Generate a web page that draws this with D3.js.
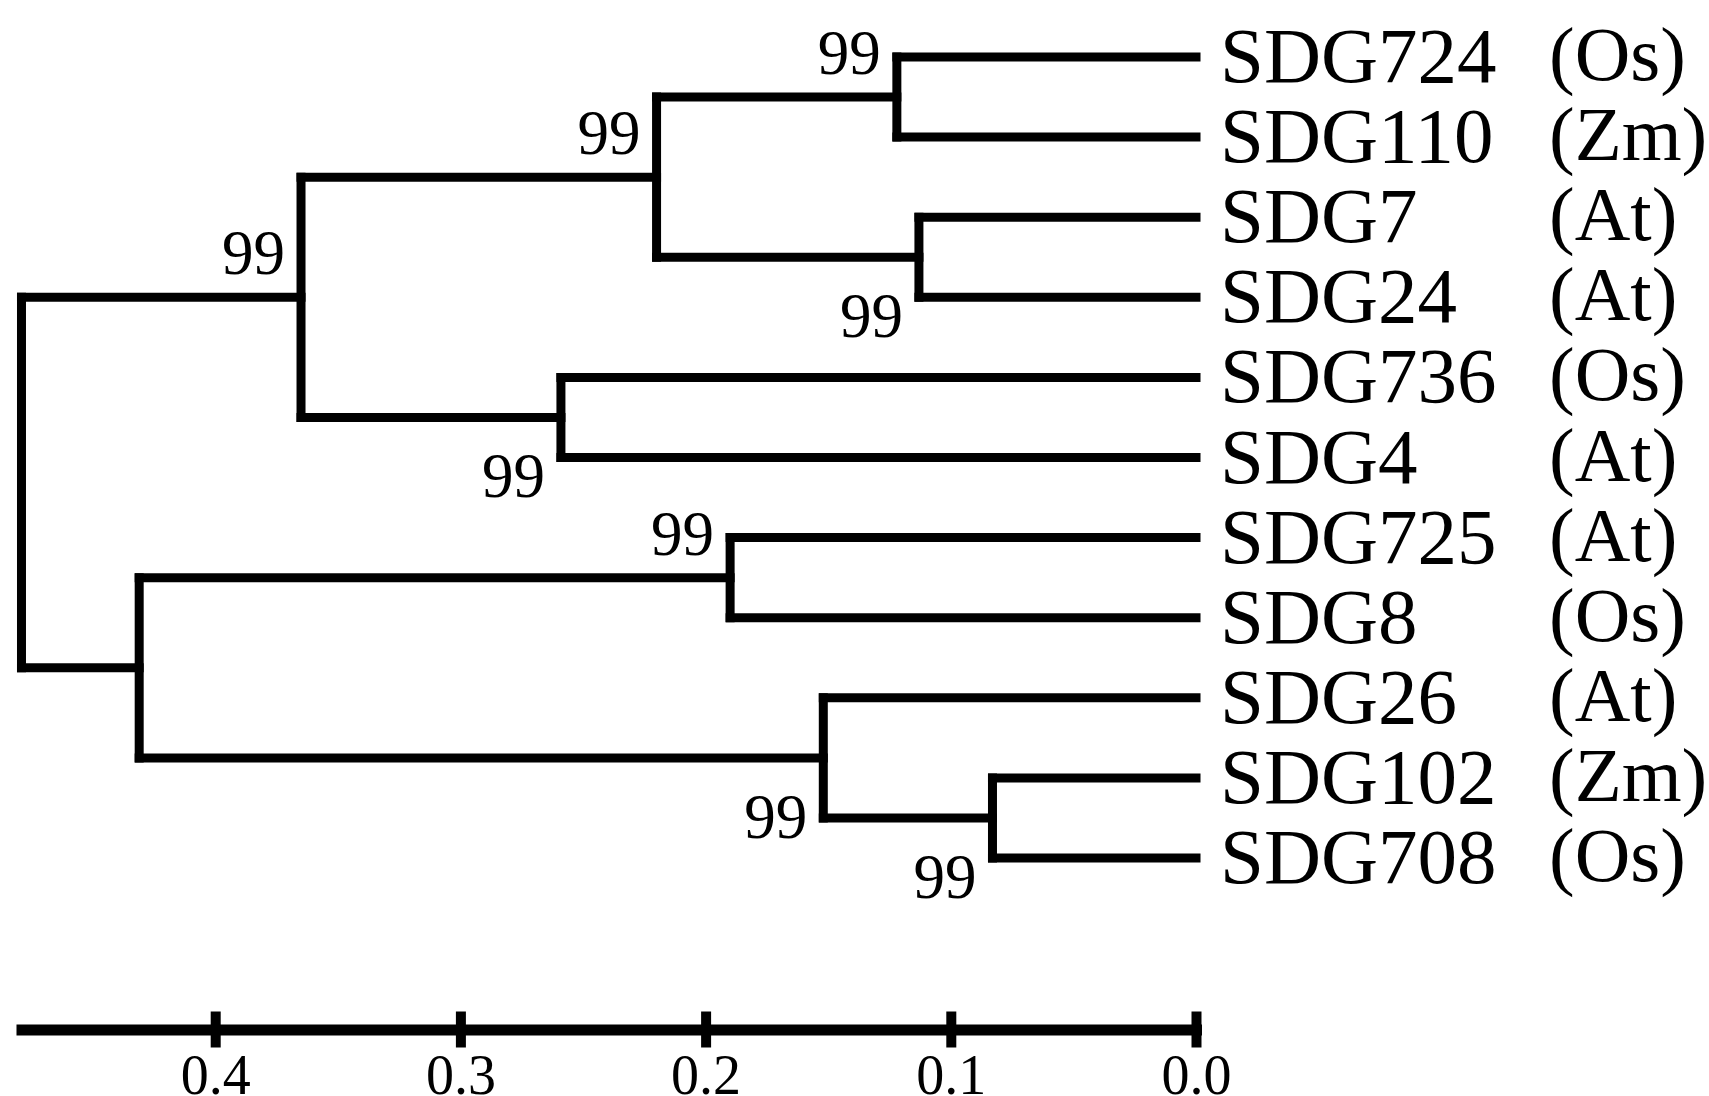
<!DOCTYPE html>
<html lang="en">
<head>
<meta charset="UTF-8">
<title>SDG tree</title>
<style>
  html, body { margin: 0; padding: 0; background: #fff; }
  svg { display: block; }
  text { font-family: "Liberation Serif", "Times New Roman", Times, serif; fill: #000; }
</style>
</head>
<body>
<svg id="tree" width="1709" height="1096"></svg>
<script src="https://d3js.org/d3.v7.min.js"></script>
<script>
// leaves, top to bottom
const leafNames   = ["SDG724", "SDG110", "SDG7", "SDG24", "SDG736", "SDG4", "SDG725", "SDG8", "SDG26", "SDG102", "SDG708"];
const leafSpecies = ["Os", "Zm", "At", "At", "Os", "At", "At", "Os", "At", "Zm", "Os"];

// internal nodes: children (upper first), node height, bootstrap
const nodeIds      = ["n724_110", "n7_24", "nA", "n736_4", "nUp", "n725_8", "n102_708", "n26", "nLow", "root"];
const nodeChildren = [
  ["SDG724", "SDG110"],
  ["SDG7", "SDG24"],
  ["n724_110", "n7_24"],
  ["SDG736", "SDG4"],
  ["nA", "n736_4"],
  ["SDG725", "SDG8"],
  ["SDG102", "SDG708"],
  ["SDG26", "n102_708"],
  ["n725_8", "n26"],
  ["nUp", "nLow"]
];
const nodeHeights  = [0.122, 0.113, 0.220, 0.259, 0.365, 0.190, 0.083, 0.152, 0.431, 0.479];
const nodeSupport  = [99, 99, 99, 99, 99, 99, 99, 99, null, null];

const axisTicks = [0.4, 0.3, 0.2, 0.1, 0.0];

// --- build hierarchy ---
const lookup = {};
leafNames.forEach((n, i) => { lookup[n] = { name: n, height: 0, species: leafSpecies[i] }; });
nodeIds.forEach((id, i) => {
  lookup[id] = { name: id, height: nodeHeights[i], support: nodeSupport[i], kids: nodeChildren[i] };
});
function build(id) {
  const d = lookup[id];
  if (d.kids) d.children = d.kids.map(build);
  return d;
}
const root = d3.hierarchy(build("root"));

// --- scales ---
const unit = 2452;           // px per 1.0 distance
const xEnd = 1196;
const rootH = root.data.height;
const x = d3.scaleLinear().domain([rootH, 0]).range([xEnd - rootH * unit, xEnd]);
const leafY = d3.scalePoint().domain(leafNames).range([57, 858]);

root.eachAfter(n => {
  n.py = n.children ? d3.mean(n.children, c => c.py) : leafY(n.data.name);
  n.px = x(n.data.height);
});

const svg = d3.select("#tree");
svg.append("rect").attr("width", 1709).attr("height", 1096).attr("fill", "#fff");

const g = svg.append("g")
  .attr("fill", "none")
  .attr("stroke", "#000")
  .attr("stroke-width", 9)
  .attr("stroke-linecap", "square");

// horizontal branches
g.selectAll(".hbranch")
  .data(root.descendants().filter(n => n.parent))
  .join("path")
  .attr("class", "hbranch")
  .attr("d", n => `M${n.parent.px},${n.py}H${n.px}`);

// vertical connectors
g.selectAll(".vbranch")
  .data(root.descendants().filter(n => n.children))
  .join("path")
  .attr("class", "vbranch")
  .attr("d", n => `M${n.px},${n.children[0].py}V${n.children[n.children.length - 1].py}`);

// leaf labels
const leaves = root.leaves();
svg.selectAll(".leaf")
  .data(leaves)
  .join("text")
  .attr("class", "leaf")
  .attr("x", 1220)
  .attr("y", n => n.py + 25)
  .style("font-size", "79px")
  .text(n => n.data.name);

svg.selectAll(".species")
  .data(leaves)
  .join("text")
  .attr("class", "species")
  .attr("x", 1549)
  .attr("y", n => n.py + 23)
  .style("font-size", "77px")
  .text(n => `(${n.data.species})`);

// bootstrap values: above the stem for upper children, below for lower ones
svg.selectAll(".support")
  .data(root.descendants().filter(n => n.parent && n.data.support != null))
  .join("text")
  .attr("class", "support")
  .attr("text-anchor", "end")
  .attr("x", n => n.px - 16)
  .attr("y", n => n === n.parent.children[0] ? n.py - 23 : n.py + 80)
  .style("font-size", "63px")
  .text(n => n.data.support);

// scale bar
const axis = d3.axisBottom(x)
  .tickValues(axisTicks)
  .tickFormat(d3.format(".1f"))
  .tickSizeOuter(0)
  .tickSizeInner(18);

const gAxis = svg.append("g")
  .attr("transform", "translate(0,1029.5)")
  .call(axis);

gAxis.select(".domain")
  .attr("stroke-width", 11)
  .attr("stroke-linecap", "square");
gAxis.selectAll(".tick line")
  .attr("y1", -18)
  .attr("y2", 18)
  .attr("stroke-width", 10);
gAxis.selectAll(".tick text")
  .attr("y", 64)
  .attr("dy", null)
  .style("font-size", "56px");
</script>
</body>
</html>
